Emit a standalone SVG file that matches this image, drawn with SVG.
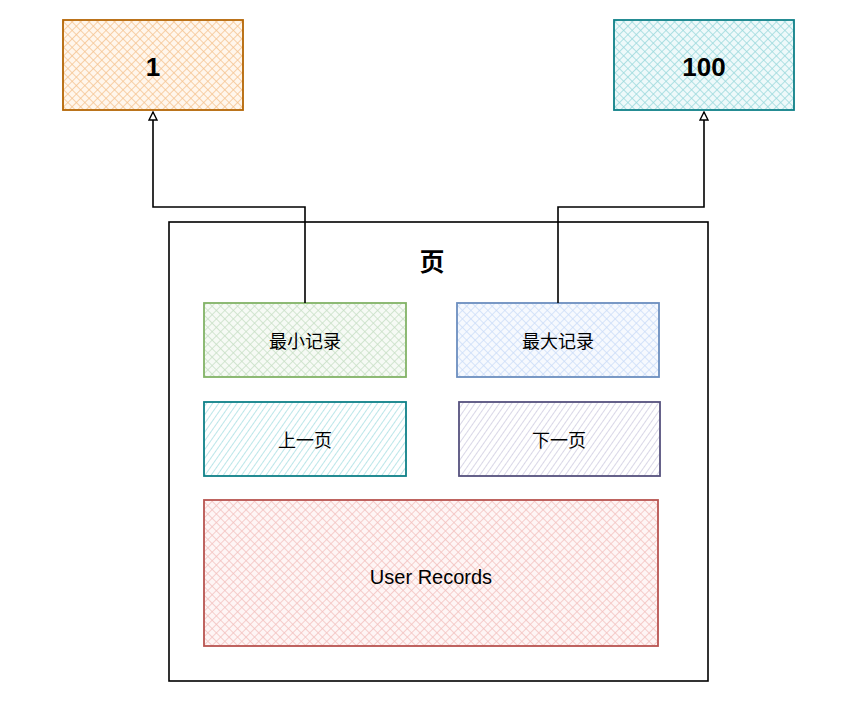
<svg xmlns="http://www.w3.org/2000/svg" width="856" height="716" viewBox="0 0 856 716">
<defs>
<pattern id="hOrange" width="6" height="6" patternUnits="userSpaceOnUse" patternTransform="rotate(45)"><rect width="6" height="6" fill="#fff6ec"/><path d="M0 0V6M0 0H6" stroke="#f5c38f" stroke-width="1.5"/></pattern>
<pattern id="hTeal" width="6" height="6" patternUnits="userSpaceOnUse" patternTransform="rotate(45)"><rect width="6" height="6" fill="#eef9fa"/><path d="M0 0V6M0 0H6" stroke="#99d8dc" stroke-width="1.5"/></pattern>
<pattern id="hGreen" width="6" height="6" patternUnits="userSpaceOnUse" patternTransform="rotate(45)"><rect width="6" height="6" fill="#f6faf5"/><path d="M0 0V6M0 0H6" stroke="#c7dfc4" stroke-width="1.5"/></pattern>
<pattern id="hBlue" width="6" height="6" patternUnits="userSpaceOnUse" patternTransform="rotate(45)"><rect width="6" height="6" fill="#f6f9fe"/><path d="M0 0V6M0 0H6" stroke="#cadcf8" stroke-width="1.5"/></pattern>
<pattern id="hRed" width="6" height="6" patternUnits="userSpaceOnUse" patternTransform="rotate(45)"><rect width="6" height="6" fill="#fef5f5"/><path d="M0 0V6M0 0H6" stroke="#f3c0be" stroke-width="1.5"/></pattern>
<pattern id="sTeal" width="5" height="5" patternUnits="userSpaceOnUse" patternTransform="rotate(35)"><rect width="5" height="5" fill="#ffffff"/><path d="M0 0V5" stroke="#a0dce0" stroke-width="1.4"/></pattern>
<pattern id="sPurple" width="5" height="5" patternUnits="userSpaceOnUse" patternTransform="rotate(35)"><rect width="5" height="5" fill="#ffffff"/><path d="M0 0V5" stroke="#c9c6dd" stroke-width="1.4"/></pattern>
<marker id="arr" viewBox="0 0 10 10" refX="9" refY="5" markerWidth="10" markerHeight="10" markerUnits="userSpaceOnUse" orient="auto"><path d="M1 1L9 5L1 9Z" fill="#fff" stroke="#000" stroke-width="1.4"/></marker>
<style>
text{font-family:"Liberation Sans","Noto Sans CJK SC",sans-serif;fill:#000;text-anchor:middle;dominant-baseline:central}
.lbl{font-size:18px}
.big{font-size:26px;font-weight:bold}
.box{stroke-width:1.8}
.conn{fill:none;stroke:#000;stroke-width:1.6}
</style>
</defs>
<g id="page">
<rect x="169" y="222" width="539" height="459" fill="none" stroke="#000" stroke-width="1.6"/>
<text x="432" y="262" style="font-size:25px;font-weight:bold">页</text>
</g>
<g id="n1"><rect class="box" x="63" y="20" width="180" height="90" fill="url(#hOrange)" stroke="#b46504"/><text class="big" x="153" y="67">1</text></g>
<g id="n100"><rect class="box" x="614" y="20" width="180" height="90" fill="url(#hTeal)" stroke="#0e8088"/><text class="big" x="704" y="67">100</text></g>
<g id="minrec"><rect class="box" x="204" y="303" width="202" height="74" fill="url(#hGreen)" stroke="#82b366"/><text class="lbl" x="305" y="342">最小记录</text></g>
<g id="maxrec"><rect class="box" x="457" y="303" width="202" height="74" fill="url(#hBlue)" stroke="#6c8ebf"/><text class="lbl" x="558" y="342">最大记录</text></g>
<g id="prev"><rect class="box" x="204" y="402" width="202" height="74" fill="url(#sTeal)" stroke="#0e8088"/><text class="lbl" x="305" y="441">上一页</text></g>
<g id="next"><rect class="box" x="459" y="402" width="201" height="74" fill="url(#sPurple)" stroke="#56517e"/><text class="lbl" x="559" y="441">下一页</text></g>
<g id="userrec"><rect class="box" x="204" y="500" width="454" height="146" fill="url(#hRed)" stroke="#b85450"/><text class="lbl" x="431" y="577" style="font-size:20px">User Records</text></g>
<g id="connectors">
<path class="conn" d="M305 303V207H153V112" marker-end="url(#arr)"/>
<path class="conn" d="M558 303V207H704V112" marker-end="url(#arr)"/>
</g>
</svg>
